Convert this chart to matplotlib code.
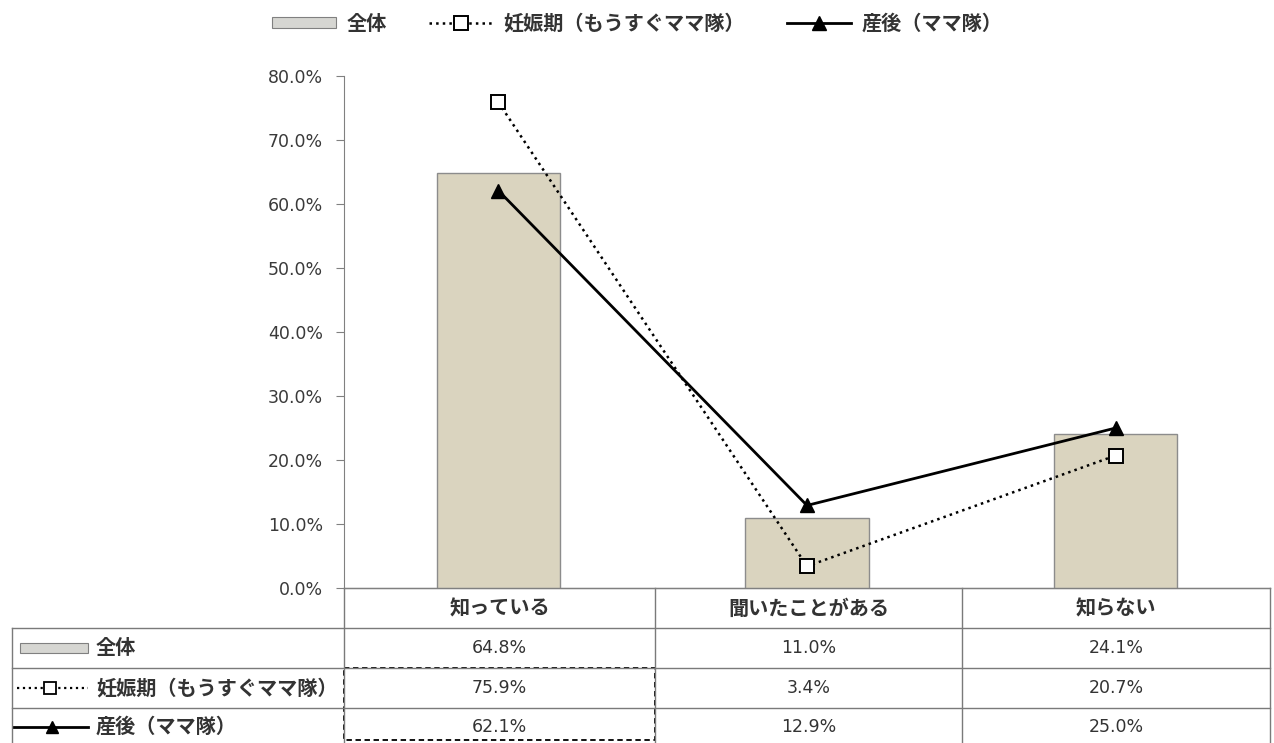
import numpy as np
import matplotlib
matplotlib.use("Agg")
import matplotlib.pyplot as plt
from matplotlib.ticker import PercentFormatter
from matplotlib.lines import Line2D
from matplotlib.patches import Rectangle

plt.rcParams['font.family'] = ['Noto Sans CJK JP', 'DejaVu Sans']

categories = ["知っている", "聞いたことがある", "知らない"]
series_names = ["全体", "妊娠期（もうすぐママ隊）", "産後（ママ隊）"]
overall = [0.648, 0.110, 0.241]
pregnancy = [0.759, 0.034, 0.207]
postpartum = [0.621, 0.129, 0.250]

JP = dict(family=['Noto Sans CJK JP', 'DejaVu Sans'], fontsize=14.5, fontweight='bold', color='#333333')
NUM = dict(family=['DejaVu Sans'], fontsize=12.5, color='#333333')

W, H = 1274, 743
fig = plt.figure(figsize=(W / 100, H / 100), dpi=100)
fig.patch.set_facecolor("white")

# plot area (pixel layout converted to figure fractions)
left, right, top, bottom = 344, 1270, 76, 588
ax = fig.add_axes([left / W, 1 - bottom / H, (right - left) / W, (bottom - top) / H])

x = np.arange(len(categories))
bars = ax.bar(x, overall, width=0.4, color="#dad4bf", edgecolor="#8c8c8c", linewidth=1.0, zorder=1)
l_preg, = ax.plot(x, pregnancy, linestyle=":", color="black", linewidth=1.8,
                  marker="s", markersize=9.5, markerfacecolor="white",
                  markeredgecolor="black", markeredgewidth=1.4, zorder=3)
l_post, = ax.plot(x, postpartum, linestyle="-", color="black", linewidth=2.0,
                  marker="^", markersize=10, markerfacecolor="black",
                  markeredgecolor="black", zorder=4)

ax.set_xlim(-0.5, len(categories) - 0.5)
ax.set_ylim(0, 0.8)
ax.set_yticks(np.arange(0, 0.81, 0.1))
ax.yaxis.set_major_formatter(PercentFormatter(1.0, decimals=1))
ax.set_xticks([])
for s in ["top", "right"]:
    ax.spines[s].set_visible(False)
ax.spines["left"].set_color("#808080")
ax.spines["bottom"].set_color("#808080")
ax.tick_params(axis="y", direction="out", length=6, color="#808080", pad=9)
for lab in ax.get_yticklabels():
    lab.set_fontfamily(NUM['family'])
    lab.set_fontsize(NUM['fontsize'])
    lab.set_color('#3a3a3a')
ax.set_facecolor("none")

# data table under the plot, drawn on a pixel-space overlay
tab = fig.add_axes([0, 0, 1, 1], zorder=-1)
tab.set_xlim(0, W)
tab.set_ylim(H, 0)
tab.axis("off")

grid_c = "#7a7a7a"
col_edges = [left, 655, 962, right]
row_edges = [bottom, 628, 668, 708, 745]
label_left = 12

tab.plot([col_edges[0], col_edges[-1]], [row_edges[0]] * 2, color=grid_c, lw=1)
for r in row_edges[1:4]:
    tab.plot([label_left, col_edges[-1]], [r, r], color=grid_c, lw=1)
for c in col_edges:
    tab.plot([c, c], [row_edges[0], row_edges[-1]], color=grid_c, lw=1)
tab.plot([label_left, label_left], [row_edges[1], row_edges[-1]], color=grid_c, lw=1)

for j, cat in enumerate(categories):
    cx = (col_edges[j] + col_edges[j + 1]) / 2
    tab.text(cx, (row_edges[0] + row_edges[1]) / 2, cat, ha="center", va="center", **JP)

for i, vals in enumerate([overall, pregnancy, postpartum]):
    cy = (row_edges[i + 1] + row_edges[i + 2]) / 2
    for j, v in enumerate(vals):
        cx = (col_edges[j] + col_edges[j + 1]) / 2
        tab.text(cx, cy, f"{v * 100:.1f}%", ha="center", va="center", **NUM)

# row label keys
key_face = "#d6d6d2"
ky = [(row_edges[k] + row_edges[k + 1]) / 2 for k in (1, 2, 3)]
tab.add_patch(Rectangle((20, ky[0] - 5), 68, 10, facecolor=key_face, edgecolor="#808080", lw=0.8))
tab.add_line(Line2D([17, 88], [ky[1], ky[1]], linestyle=":", color="black", lw=1.6))
tab.add_line(Line2D([50], [ky[1]], marker="s", markersize=8.5, markerfacecolor="white",
                    markeredgecolor="black", markeredgewidth=1.3, linestyle="none"))
tab.add_line(Line2D([14, 88], [ky[2], ky[2]], linestyle="-", color="black", lw=2.0))
tab.add_line(Line2D([52], [ky[2]], marker="^", markersize=9, color="black", linestyle="none"))
for k, name in enumerate(series_names):
    tab.text(96, ky[k], name, ha="left", va="center", **JP)

# dashed highlight around the first category's series cells
tab.add_patch(Rectangle((col_edges[0], row_edges[2]), col_edges[1] - col_edges[0],
                        740 - row_edges[2], fill=False, edgecolor="black",
                        linestyle=(0, (3, 2)), lw=1.3))

overall_key = Rectangle((0, 0), 1, 1, facecolor=key_face, edgecolor="#808080", lw=0.8)
leg = fig.legend(handles=[overall_key, l_preg, l_post], labels=series_names, loc="center",
                 bbox_to_anchor=(637 / W, 1 - 23 / H), ncol=3, frameon=False,
                 prop=dict(family=JP['family'], size=JP['fontsize'], weight='bold'),
                 handlelength=3.2, handleheight=0.5, columnspacing=2.1, handletextpad=0.5)
for t in leg.get_texts():
    t.set_color(JP['color'])

fig.savefig("out.png", dpi=100, facecolor="white")
